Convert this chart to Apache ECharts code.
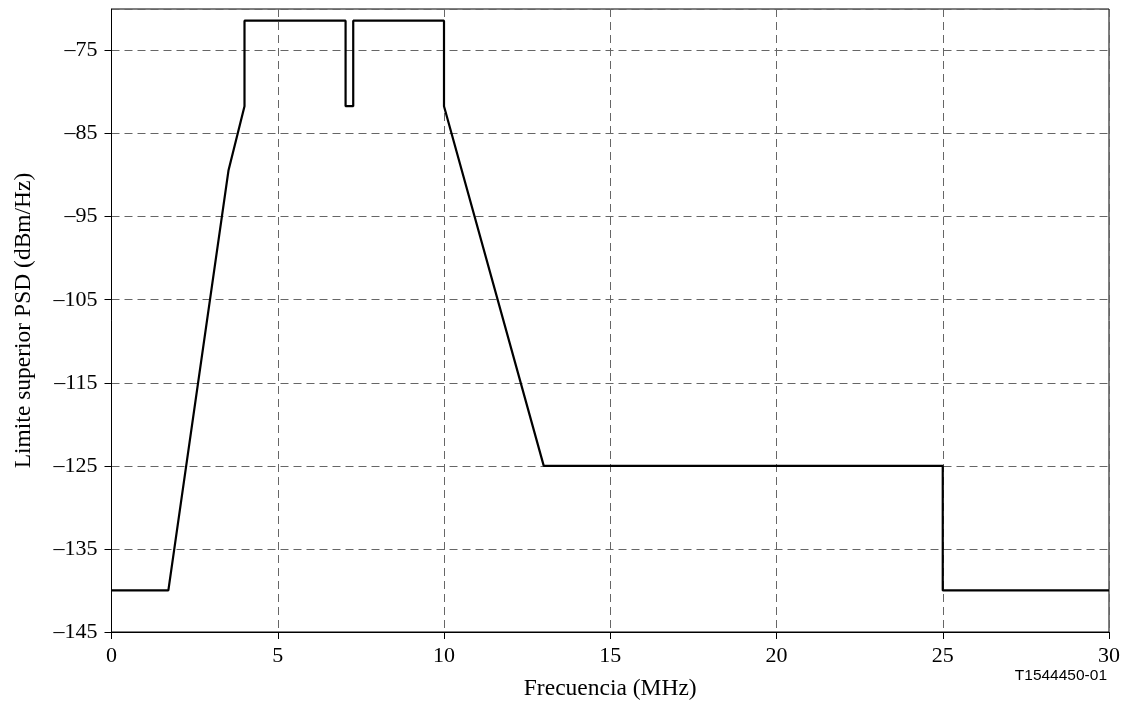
<!DOCTYPE html>
<html>
<head>
<meta charset="utf-8">
<script src="https://cdn.jsdelivr.net/npm/echarts@6/dist/echarts.min.js"></script>
<style>
html,body{margin:0;padding:0;background:#fff;}
#chart{width:1125px;height:704px;}
</style>
</head>
<body>
<div id="chart"></div>
<script>
// Data
const freqMHz = [0, 1.71, 3.52, 4, 4, 7.04, 7.04, 7.27, 7.27, 10, 10, 13, 25, 25, 30];
const psdLimit = [-140, -140, -89.4, -81.7, -71.4, -71.4, -81.7, -81.7, -71.4, -71.4, -81.7, -125, -125, -140, -140];
const xTicks = [0, 5, 10, 15, 20, 25, 30];
const yTicks = [-145, -135, -125, -115, -105, -95, -85, -75];
const xTitle = 'Frecuencia (MHz)';
const yTitle = 'Limite superior PSD (dBm/Hz)';
const figId = 'T1544450-01';

const chart = echarts.init(document.getElementById('chart'), null, {renderer: 'canvas'});
const serif = '"Liberation Serif", "Times New Roman", serif';
const gridLine = {show: true, lineStyle: {color: '#666', width: 1, type: [8, 5]}};
chart.setOption({
  animation: false,
  backgroundColor: '#fff',
  grid: {left: 111.5, right: 16, top: 9, bottom: 72, show: true, borderColor: '#000', borderWidth: 1,
    containLabel: false, outerBoundsMode: 'none'},
  xAxis: {
    type: 'value', min: 0, max: 30, interval: 5,
    name: xTitle, nameLocation: 'middle', nameGap: 45,
    nameTextStyle: {fontFamily: serif, fontSize: 23.5, color: '#000'},
    axisLine: {show: true, lineStyle: {color: '#000', width: 1}},
    axisTick: {show: true, length: 7, inside: false, lineStyle: {color: '#000'}},
    axisLabel: {fontFamily: serif, fontSize: 22, color: '#000', margin: 13,
      formatter: v => xTicks.includes(v) ? String(v) : ''},
    splitLine: gridLine
  },
  yAxis: {
    type: 'value', min: -145, max: -70, interval: 10,
    name: yTitle, nameLocation: 'middle', nameGap: 76, nameRotate: 90,
    nameTextStyle: {fontFamily: serif, fontSize: 23.5, color: '#000'},
    axisLine: {show: true, lineStyle: {color: '#000', width: 1}},
    axisTick: {show: true, length: 7, lineStyle: {color: '#000'}},
    axisLabel: {fontFamily: serif, fontSize: 22, color: '#000', margin: 14, showMaxLabel: false,
      formatter: v => yTicks.includes(v) ? String(v).replace('-', '\u2013') : ''},
    splitLine: gridLine
  },
  graphic: [{
    type: 'text', right: 18, top: 668,
    style: {text: figId, font: '15.5px "Liberation Sans", Arial, sans-serif', fill: '#000'}
  }],
  series: [{
    type: 'line',
    data: freqMHz.map((f, i) => [f, psdLimit[i]]),
    showSymbol: false,
    lineStyle: {color: '#000', width: 2.2},
    z: 5
  }]
});
</script>
</body>
</html>
